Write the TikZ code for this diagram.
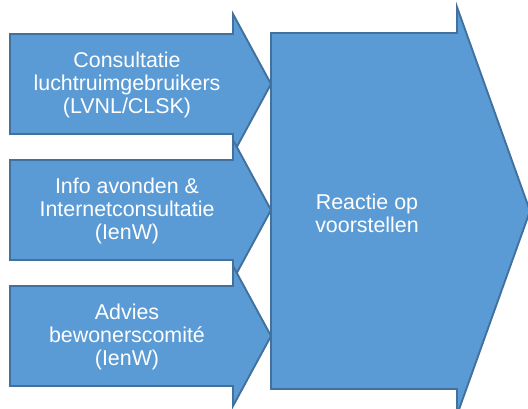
\documentclass[tikz,border=0pt]{standalone}
\usepackage{fontspec}
\setmainfont{Liberation Sans}
\definecolor{afill}{HTML}{5B9BD5}
\definecolor{aline}{HTML}{41719C}
\begin{document}
\begin{tikzpicture}[x=1pt,y=-1pt,
  arrowshape/.style={fill=afill,draw=aline,line width=1.9pt,line join=miter},
  lbl/.style={text=white,align=center,font=\fontsize{21.4}{23}\selectfont,inner sep=0pt}]
\useasboundingbox (0,0) rectangle (528,408);
\begin{scope}
\clip (0,0) rectangle (528,408);
% small arrows
\foreach \c/\n in {84/a1,210/a2,336/a3}{
  \draw[arrowshape] (10,\c-50) -- (233,\c-50) -- (233,\c-70) -- (271,\c) -- (233,\c+70) -- (233,\c+50) -- (10,\c+50) -- cycle;
}
% big arrow
\draw[arrowshape] (271,33) -- (457,33) -- (457,7) -- (530,211) -- (457,415) -- (457,389) -- (271,389) -- cycle;
\end{scope}
\node[lbl] (t1) at (127,85) {Consultatie\\luchtruimgebruikers\\(LVNL/CLSK)};
\node[lbl] (t2) at (127,211) {Info avonden \&\\Internetconsultatie\\(IenW)};
\node[lbl] (t3) at (127,337) {Advies\\bewonerscomité\\(IenW)};
\node[lbl] (t4) at (367,213) {Reactie op\\voorstellen};
\end{tikzpicture}
\end{document}
